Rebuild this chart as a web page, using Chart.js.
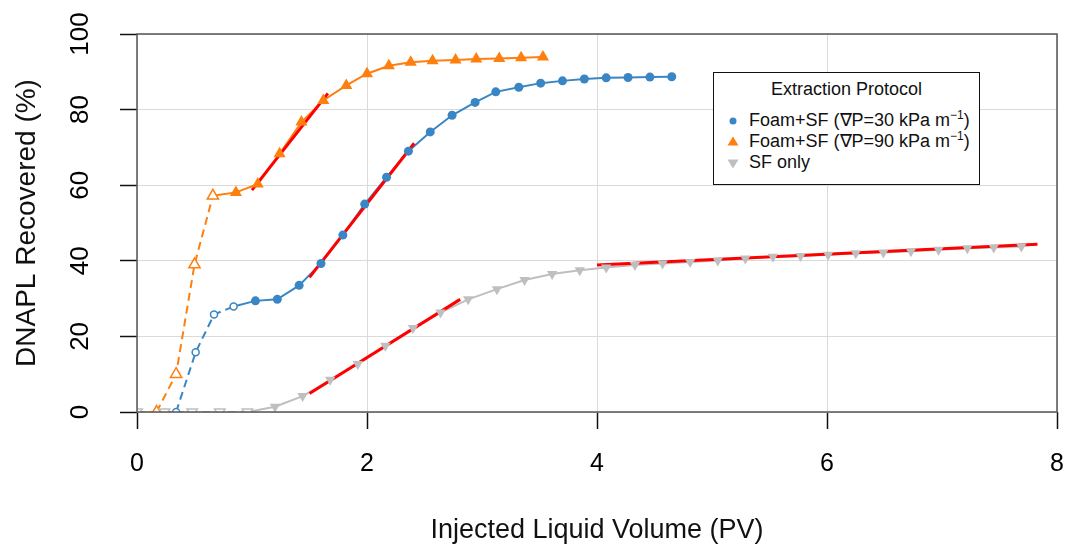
<!DOCTYPE html>
<html>
<head>
<meta charset="utf-8">
<script src="https://cdn.jsdelivr.net/npm/chart.js@4.4.1/dist/chart.umd.min.js"></script>
<style>
  html, body { margin: 0; padding: 0; background: #fff; }
  #wrap { position: relative; width: 1069px; height: 544px; }
  #legend {
    position: absolute; left: 713px; top: 72px; width: 265px; height: 111px;
    border: 1.5px solid #111; background: #fff;
    font-family: "Liberation Sans", Arial, sans-serif; font-size: 18px; color: #111;
  }
  #legend .ttl { position: absolute; left: 0; right: 0; top: 6px; line-height: 21px; text-align: center; }
  #legend .row { position: absolute; left: 35px; line-height: 21px; white-space: nowrap; }
  #legend svg { position: absolute; left: -23px; top: 4px; }
  #legend sup { font-size: 12px; vertical-align: 7px; line-height: 0; }
</style>
</head>
<body>
<div id="wrap">
  <canvas id="chart" width="1069" height="544"></canvas>
  <div id="legend">
    <div class="ttl">Extraction Protocol</div>
    <div class="row" style="top:37px">
      <svg width="14" height="14"><circle cx="7" cy="7" r="3.5" fill="#3a86c4"/></svg>
      Foam+SF (∇P=30 kPa m<sup>−1</sup>)
    </div>
    <div class="row" style="top:58px">
      <svg width="14" height="14"><polygon points="7,1.5 12.5,10.5 1.5,10.5" fill="#ff7f0e"/></svg>
      Foam+SF (∇P=90 kPa m<sup>−1</sup>)
    </div>
    <div class="row" style="top:79px">
      <svg width="14" height="14"><polygon points="1.5,3.5 12.5,3.5 7,12.5" fill="#bfbfbf"/></svg>
      SF only
    </div>
  </div>
</div>
<script>
// injected pore volumes (PV) and DNAPL recovered (%)
const foam30EarlyPV = [0.34, 0.51, 0.67, 0.84];
const foam30EarlyRec = [0, 15.8, 25.8, 27.9];
const foam30PV = [1.03, 1.22, 1.41, 1.60, 1.79, 1.98, 2.17, 2.36, 2.55, 2.74, 2.94, 3.12, 3.32, 3.51, 3.70, 3.89, 4.08, 4.27, 4.46, 4.65];
const foam30Rec = [29.4, 29.8, 33.5, 39.3, 46.8, 55.0, 62.1, 69.0, 74.1, 78.5, 81.9, 84.7, 85.9, 87.0, 87.6, 88.1, 88.4, 88.5, 88.6, 88.7];

const foam90EarlyPV = [0.17, 0.34, 0.50, 0.66];
const foam90EarlyRec = [0, 10, 39, 57.2];
const foam90PV = [0.86, 1.05, 1.24, 1.43, 1.62, 1.82, 2.00, 2.19, 2.38, 2.57, 2.77, 2.95, 3.15, 3.34, 3.53];
const foam90Rec = [58.1, 60.3, 68.3, 76.7, 82.4, 86.4, 89.5, 91.6, 92.5, 92.9, 93.1, 93.4, 93.5, 93.7, 93.9];

const sfEarlyPV = [0, 0.24, 0.48, 0.72, 0.96];
const sfEarlyRec = [0, 0, 0, 0, 0];
const sfPV = [1.20, 1.44, 1.68, 1.92, 2.16, 2.40, 2.64, 2.88, 3.13, 3.37, 3.61, 3.85, 4.08, 4.33, 4.57, 4.81, 5.05, 5.29, 5.53, 5.77, 6.01, 6.25, 6.49, 6.73, 6.97, 7.22, 7.45, 7.69];
const sfRec = [1.4, 4.2, 8.5, 12.7, 17.5, 22.2, 26.3, 29.8, 32.5, 34.9, 36.5, 37.5, 38.2, 38.9, 39.3, 39.7, 40.1, 40.6, 41.1, 41.3, 41.6, 42.0, 42.2, 42.5, 42.9, 43.3, 43.5, 43.8];

// linear fits (red)
const fit90PV = [1.0, 1.66], fit90Rec = [58.7, 84.3];
const fit30PV = [1.5, 2.41], fit30Rec = [35.6, 71.1];
const fitSf1PV = [1.5, 2.81], fitSf1Rec = [4.9, 29.8];
const fitSf2PV = [4.0, 7.83], fitSf2Rec = [38.9, 44.4];

const xTicks = [0, 2, 4, 6, 8];
const yTicks = [0, 20, 40, 60, 80, 100];

const BLUE = '#3a86c4', ORANGE = '#ff7f0e', GRAY = '#bfbfbf', RED = '#ff0000';
const FONT = '"Liberation Sans", Arial, sans-serif';

function pts(xs, ys) {
  return xs.map((x, i) => ({ x: x, y: ys[i] }));
}
// solid part starts at the last early point
function joined(ex, ey, xs, ys) {
  return pts([ex[ex.length - 1]].concat(xs), [ey[ey.length - 1]].concat(ys));
}

function lineSet(data, color, dashed) {
  return { data, borderColor: color, borderWidth: 2, borderDash: dashed ? [8, 5] : [],
    pointRadius: 0, fill: false, order: 3, clip: 0 };
}
function fitSet(data) {
  return { data, borderColor: RED, borderWidth: 3, pointRadius: 0, fill: false, order: 2 };
}
function markSet(data, color, style, r, hollow, rot) {
  return { data, showLine: false, pointStyle: style, pointRadius: r, pointRotation: rot || 0,
    pointBackgroundColor: hollow ? '#fff' : color, pointBorderColor: color,
    pointBorderWidth: hollow ? 1.5 : 0, order: 1, clip: hollow ? 0 : undefined };
}

const framePlugin = {
  id: 'frame',
  afterDatasetsDraw(chart) {
    const { ctx, chartArea: a } = chart;
    ctx.save();
    ctx.strokeStyle = '#555';
    ctx.lineWidth = 1.5;
    ctx.strokeRect(a.left, a.top, a.right - a.left, a.bottom - a.top);
    ctx.restore();
  }
};

new Chart(document.getElementById('chart'), {
  type: 'line',
  data: {
    datasets: [
      lineSet(pts(sfEarlyPV, sfEarlyRec), GRAY, true),
      lineSet(joined(sfEarlyPV, sfEarlyRec, sfPV, sfRec), GRAY, false),
      lineSet(pts(foam30EarlyPV, foam30EarlyRec), BLUE, true),
      lineSet(joined(foam30EarlyPV, foam30EarlyRec, foam30PV, foam30Rec), BLUE, false),
      lineSet(pts(foam90EarlyPV, foam90EarlyRec), ORANGE, true),
      lineSet(joined(foam90EarlyPV, foam90EarlyRec, foam90PV, foam90Rec), ORANGE, false),
      fitSet(pts(fit90PV, fit90Rec)),
      fitSet(pts(fit30PV, fit30Rec)),
      fitSet(pts(fitSf1PV, fitSf1Rec)),
      fitSet(pts(fitSf2PV, fitSf2Rec)),
      markSet(pts(sfEarlyPV, sfEarlyRec), GRAY, 'triangle', 6, true, 180),
      markSet(pts(sfPV, sfRec), GRAY, 'triangle', 6, false, 180),
      markSet(pts(foam30EarlyPV, foam30EarlyRec), BLUE, 'circle', 3.5, true),
      markSet(pts(foam30PV, foam30Rec), BLUE, 'circle', 4.5, false),
      markSet(pts(foam90EarlyPV, foam90EarlyRec), ORANGE, 'triangle', 6.5, true),
      markSet(pts(foam90PV, foam90Rec), ORANGE, 'triangle', 7, false)
    ]
  },
  options: {
    responsive: false,
    animation: false,
    devicePixelRatio: 1,
    layout: { padding: { top: 34, right: 12, left: 0, bottom: 0 } },
    plugins: { legend: { display: false }, tooltip: { enabled: false } },
    scales: {
      x: {
        type: 'linear', min: 0, max: 8,
        afterBuildTicks(scale) { scale.ticks = xTicks.map(v => ({ value: v })); },
        ticks: { padding: 20, maxRotation: 0, color: '#000', font: { family: FONT, size: 25 } },
        grid: { color: '#dadada', lineWidth: 1, tickColor: '#111', tickLength: 17, tickWidth: 1.5 },
        border: { display: false },
        title: { display: true, text: 'Injected Liquid Volume (PV)', color: '#111',
          font: { family: FONT, size: 27, lineHeight: 1 }, padding: 0 },
        afterFit(scale) { scale.height = 132; scale.paddingLeft = 0; scale.paddingRight = 0; }
      },
      y: {
        type: 'linear', min: 0, max: 100,
        afterBuildTicks(scale) { scale.ticks = yTicks.map(v => ({ value: v })); },
        ticks: { minRotation: 90, maxRotation: 90, crossAlign: 'center', padding: 17,
          color: '#000', font: { family: FONT, size: 26 } },
        grid: { color: '#dadada', lineWidth: 1, tickColor: '#111', tickLength: 17, tickWidth: 1.5 },
        border: { display: false },
        title: { display: true, text: 'DNAPL Recovered (%)', color: '#111',
          font: { family: FONT, size: 28, lineHeight: 1.2 }, padding: { top: 10, bottom: 0 } },
        afterFit(scale) { scale.width = 137; scale.paddingTop = 0; scale.paddingBottom = 0; }
      }
    }
  },
  plugins: [framePlugin]
});
</script>
</body>
</html>
